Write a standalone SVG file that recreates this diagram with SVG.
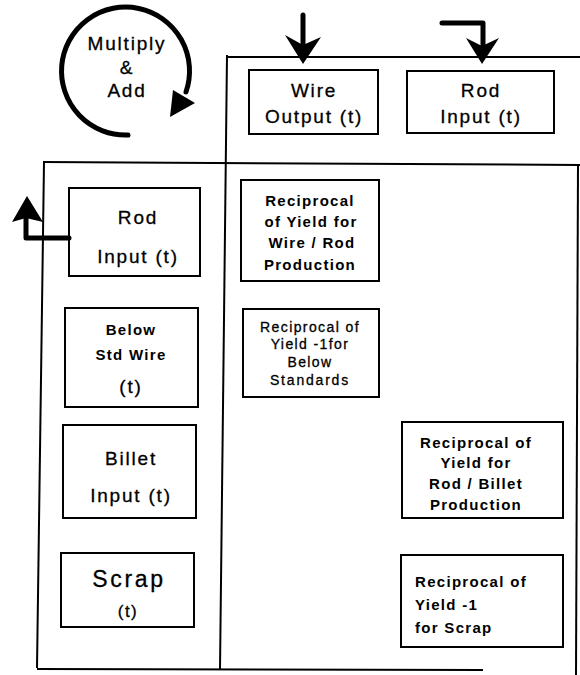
<svg xmlns="http://www.w3.org/2000/svg" width="580" height="675" viewBox="0 0 580 675">
  <style>
    .frame { stroke: #000; stroke-width: 2; fill: none; }
    .box { stroke: #000; stroke-width: 2; fill: #fff; }
    .t { font-family: "Liberation Sans", Arial, sans-serif; fill: #000; stroke: #000; stroke-width: 0.3; }
    .c { text-anchor: middle; }
    .l { text-anchor: start; }
    .big { font-size: 19px; letter-spacing: 1.8px; }
    .cell { font-size: 15px; font-weight: bold; letter-spacing: 1.3px; stroke-width: 0; }
    .fat { stroke: #000; stroke-width: 5; fill: none; stroke-linecap: round; stroke-linejoin: round; }
    .head { fill: #000; }
  </style>
  <rect width="580" height="675" fill="#fff"/>

  <!-- table frame -->
  <g id="frame">
    <line class="frame" x1="227" y1="57" x2="580" y2="57"/>
    <line class="frame" x1="43" y1="162" x2="580" y2="165"/>
    <line class="frame" x1="227" y1="55" x2="220" y2="670"/>
    <line class="frame" x1="44" y1="162" x2="37" y2="668"/>
    <line class="frame" x1="37" y1="669" x2="483" y2="670"/>
    <line class="frame" x1="578" y1="165" x2="576" y2="675"/>
  </g>

  <!-- multiply & add symbol -->
  <g id="multiply-add">
    <path class="fat" d="M 128 135 A 64 64 0 1 1 186 92" stroke-width="4"/>
    <polygon class="head" points="173,90 195,103 170,117"/>
    <text class="t c big" x="127" y="50">Multiply</text>
    <text class="t c big" x="127" y="74">&amp;</text>
    <text class="t c big" x="127" y="97">Add</text>
  </g>

  <!-- column headers -->
  <g id="wire-output">
    <rect class="box" x="249" y="70" width="129" height="64"/>
    <text class="t c big" x="314" y="97">Wire</text>
    <text class="t c big" x="314" y="123">Output (t)</text>
  </g>
  <g id="rod-input-top">
    <rect class="box" x="407" y="71" width="147" height="62"/>
    <text class="t c big" x="481" y="97">Rod</text>
    <text class="t c big" x="481" y="123">Input (t)</text>
  </g>

  <!-- row headers -->
  <g id="rod-input-left">
    <rect class="box" x="69" y="188" width="131" height="88"/>
    <text class="t c big" x="138" y="224">Rod</text>
    <text class="t c big" x="138" y="263">Input (t)</text>
  </g>
  <g id="below-std-wire">
    <rect class="box" x="65" y="308" width="133" height="99"/>
    <text class="t c cell" x="131" y="335" letter-spacing="2">Below</text>
    <text class="t c cell" x="131" y="360" letter-spacing="2">Std Wire</text>
    <text class="t c big" x="131" y="393">(t)</text>
  </g>
  <g id="billet-input">
    <rect class="box" x="63" y="425" width="133" height="93"/>
    <text class="t c big" x="131" y="465">Billet</text>
    <text class="t c big" x="131" y="502">Input (t)</text>
  </g>
  <g id="scrap">
    <rect class="box" x="61" y="553" width="133" height="74"/>
    <text class="t c" x="129" y="587" font-size="23" letter-spacing="2.7">Scrap</text>
    <text class="t c" x="128" y="617" font-size="17" letter-spacing="1.5">(t)</text>
  </g>

  <!-- coefficient cells -->
  <g id="yield-wire-rod">
    <rect class="box" x="241" y="180" width="138" height="101"/>
    <text class="t c cell" x="310" y="206">Reciprocal</text>
    <text class="t c cell" x="311" y="227">of Yield for</text>
    <text class="t c cell" x="312" y="248">Wire / Rod</text>
    <text class="t c cell" x="310" y="270">Production</text>
  </g>
  <g id="yield-below-std">
    <rect class="box" x="243" y="309" width="136" height="88"/>
    <text class="t c" x="310" y="332" font-size="14" letter-spacing="1.4">Reciprocal of</text>
    <text class="t c" x="310" y="349" font-size="14" letter-spacing="1.4">Yield -1for</text>
    <text class="t c" x="310" y="367" font-size="14" letter-spacing="1.4">Below</text>
    <text class="t c" x="310" y="385" font-size="14" letter-spacing="1.8">Standards</text>
  </g>
  <g id="yield-rod-billet">
    <rect class="box" x="402" y="422" width="161" height="96"/>
    <text class="t c cell" x="476" y="448">Reciprocal of</text>
    <text class="t c cell" x="476" y="468">Yield for</text>
    <text class="t c cell" x="476" y="489">Rod / Billet</text>
    <text class="t c cell" x="476" y="510">Production</text>
  </g>
  <g id="yield-scrap">
    <rect class="box" x="401" y="555" width="162" height="92"/>
    <text class="t l cell" x="415" y="587" letter-spacing="1.5">Reciprocal of</text>
    <text class="t l cell" x="415" y="610" letter-spacing="1.5">Yield -1</text>
    <text class="t l cell" x="415" y="633" letter-spacing="1.5">for Scrap</text>
  </g>

  <!-- connectors -->
  <g id="connectors">
    <line class="fat" x1="303" y1="15" x2="303" y2="46"/>
    <polygon class="head" points="285,35 303,45 321,37 303,64"/>
    <polyline class="fat" points="442,23 483,23 483,46"/>
    <polygon class="head" points="466,38 482,46 499,38 482,64"/>
    <polyline class="fat" points="69,238 26,238 26,216"/>
    <polygon class="head" points="12,222 26,218 43,222 27,196"/>
  </g>
</svg>
